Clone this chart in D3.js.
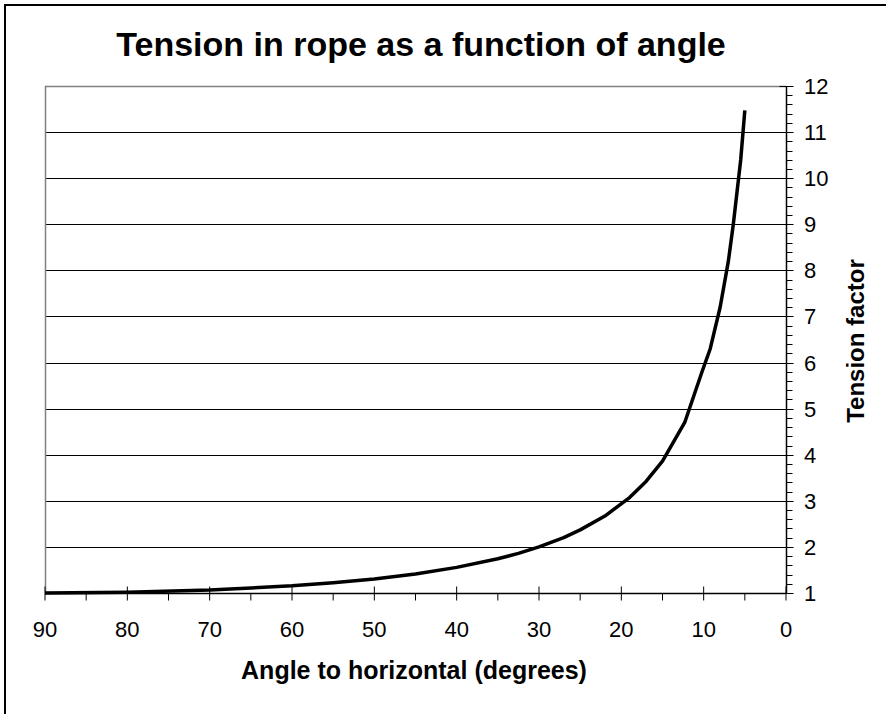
<!DOCTYPE html>
<html>
<head>
<meta charset="utf-8">
<script src="https://cdn.jsdelivr.net/npm/d3@7"></script>
<style>
body{margin:0;background:#fff;}
svg text{font-family:"Liberation Sans",Arial,sans-serif;fill:#000;}
</style>
</head>
<body>
<svg class="chart"></svg>
<script>
// angle to horizontal (degrees) and tension factor
var angles = [90, 80, 70, 60, 55, 50, 45, 40, 35, 32.5, 30, 27, 25, 22, 19, 17, 15, 12.3, 10.2, 9.2, 8, 7, 6.4, 5.5, 5];
var tension = [1, 1.015, 1.064, 1.155, 1.221, 1.305, 1.414, 1.556, 1.743, 1.86, 2.0, 2.2, 2.37, 2.67, 3.07, 3.42, 3.86, 4.7, 5.8, 6.3, 7.2, 8.2, 9.0, 10.4, 11.47];
var xTicks = [90, 80, 70, 60, 50, 40, 30, 20, 10, 0];
var yTicks = [1, 2, 3, 4, 5, 6, 7, 8, 9, 10, 11, 12];

var width = 886, height = 714;
var plotLeft = 45, plotRight = 786, plotTop = 86, plotBottom = 593;

var svg = d3.select(".chart").attr("width", width).attr("height", height);

// outer frame
svg.append("rect")
  .attr("x", 5).attr("y", 5)
  .attr("width", 900).attr("height", 760)
  .attr("fill", "none").attr("stroke", "#000").attr("stroke-width", 2);

var x = d3.scaleLinear().domain([90, 0]).range([plotLeft, plotRight]);
var y = d3.scaleLinear().domain([1, 12]).range([plotBottom, plotTop]);

// grid lines
svg.append("g").selectAll("line")
  .data(yTicks.filter(function(d){ return d > 1; }))
  .enter().append("line")
  .attr("x1", plotLeft).attr("x2", plotRight)
  .attr("y1", function(d){ return Math.round(y(d)) + 0.5; })
  .attr("y2", function(d){ return Math.round(y(d)) + 0.5; })
  .attr("stroke", function(d){ return d == 12 ? "#808080" : "#000"; })
  .attr("stroke-width", function(d){ return d == 12 ? 1.5 : 1; });

// left border of plot area
svg.append("line")
  .attr("x1", plotLeft + 0.5).attr("x2", plotLeft + 0.5)
  .attr("y1", plotTop).attr("y2", plotBottom)
  .attr("stroke", "#808080").attr("stroke-width", 1.5);

// x axis: major ticks both sides, minor below
var xAxisY = Math.round(plotBottom) + 0.5;
var gx = svg.append("g");
gx.append("line").attr("x1", plotLeft).attr("x2", plotRight)
  .attr("y1", xAxisY).attr("y2", xAxisY)
  .attr("stroke", "#000").attr("stroke-width", 1.5);
gx.selectAll(".major").data(xTicks).enter().append("line")
  .attr("class", "major")
  .attr("x1", function(d){ return x(d); }).attr("x2", function(d){ return x(d); })
  .attr("y1", xAxisY - 7).attr("y2", xAxisY + 7)
  .attr("stroke", "#000");
gx.selectAll(".minor").data(d3.range(5, 90, 10)).enter().append("line")
  .attr("class", "minor")
  .attr("x1", function(d){ return x(d); }).attr("x2", function(d){ return x(d); })
  .attr("y1", xAxisY).attr("y2", xAxisY + 7)
  .attr("stroke", "#000");
gx.selectAll("text").data(xTicks).enter().append("text")
  .attr("x", function(d){ return x(d); })
  .attr("y", 637)
  .attr("text-anchor", "middle")
  .attr("font-size", "22px")
  .text(function(d){ return d; });

// y axis on the right
var yAxisX = Math.round(plotRight) + 0.5;
var gy = svg.append("g");
gy.append("line").attr("x1", yAxisX).attr("x2", yAxisX)
  .attr("y1", plotTop).attr("y2", plotBottom)
  .attr("stroke", "#000").attr("stroke-width", 1.5);
gy.selectAll(".major").data(yTicks).enter().append("line")
  .attr("class", "major")
  .attr("x1", yAxisX - 7).attr("x2", yAxisX + 7)
  .attr("y1", function(d){ return Math.round(y(d)) + 0.5; })
  .attr("y2", function(d){ return Math.round(y(d)) + 0.5; })
  .attr("stroke", "#000");
gy.selectAll(".minor").data(d3.range(1.2, 12, 0.2).filter(function(d){ return Math.abs(d - Math.round(d)) > 0.01; }))
  .enter().append("line")
  .attr("class", "minor")
  .attr("x1", yAxisX).attr("x2", yAxisX + 6)
  .attr("y1", function(d){ return Math.round(y(d)) + 0.5; })
  .attr("y2", function(d){ return Math.round(y(d)) + 0.5; })
  .attr("stroke", "#000");
gy.selectAll("text").data(yTicks).enter().append("text")
  .attr("x", 804)
  .attr("y", function(d){ return y(d) + 8; })
  .attr("font-size", "22px")
  .text(function(d){ return d; });

// curve
var line = d3.line()
  .x(function(d){ return x(d[0]); })
  .y(function(d){ return y(d[1]); });
svg.append("path")
  .datum(d3.zip(angles, tension))
  .attr("d", line)
  .attr("fill", "none")
  .attr("stroke", "#000")
  .attr("stroke-width", 3.5)
  .attr("stroke-linejoin", "round");

// titles
svg.append("text")
  .attr("x", 421).attr("y", 56)
  .attr("text-anchor", "middle")
  .attr("font-size", "34px").attr("font-weight", "bold")
  .text("Tension in rope as a function of angle");
svg.append("text")
  .attr("x", 414).attr("y", 679)
  .attr("text-anchor", "middle")
  .attr("font-size", "25px").attr("font-weight", "bold")
  .text("Angle to horizontal (degrees)");
svg.append("text")
  .attr("transform", "translate(864,341) rotate(-90)")
  .attr("text-anchor", "middle")
  .attr("font-size", "24px").attr("font-weight", "bold")
  .text("Tension factor");
</script>
</body>
</html>
